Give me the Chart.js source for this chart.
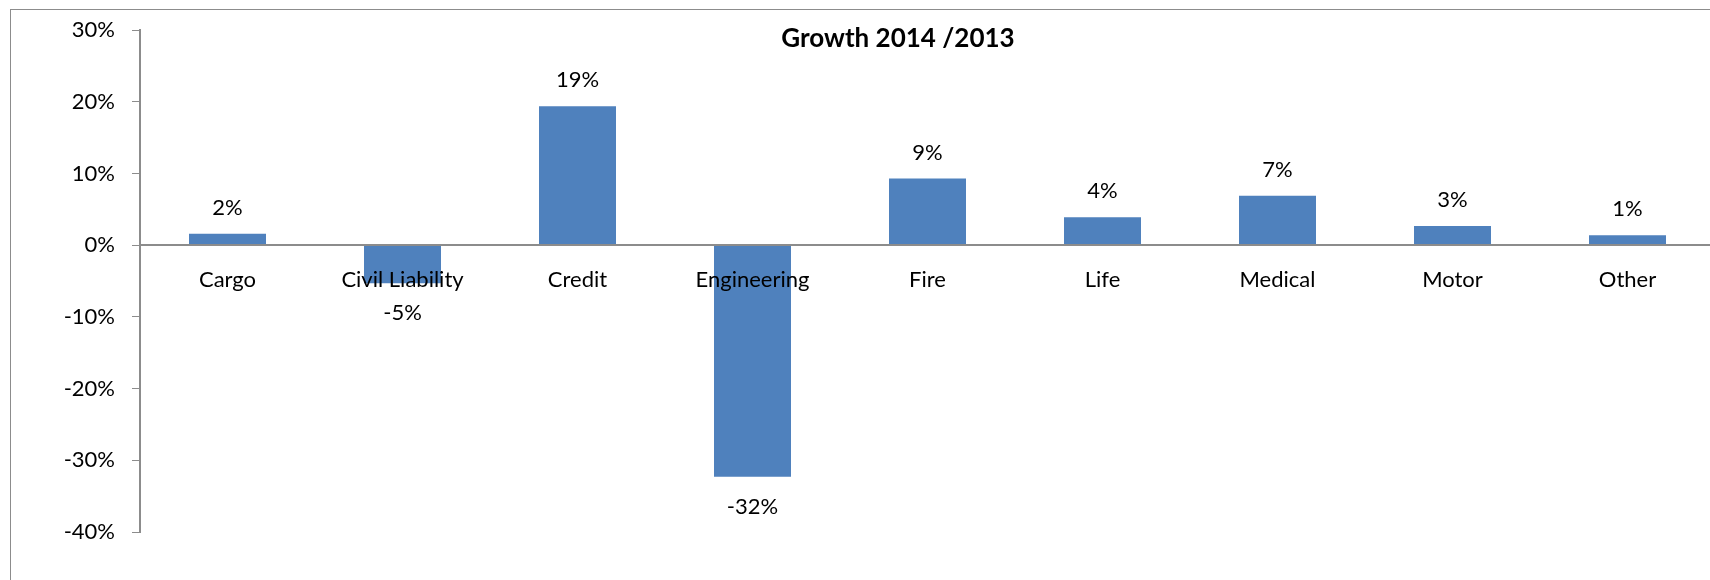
<!DOCTYPE html>
<html>
<head>
<meta charset="utf-8">
<script src="https://cdn.jsdelivr.net/npm/chart.js@4.4.1/dist/chart.umd.min.js"></script>
<style>
  html, body { margin: 0; padding: 0; background: #fff; overflow: hidden; }
  #frame {
    position: absolute; left: 10px; top: 9px; width: 1800px; height: 700px;
    border-left: 1px solid #8c8c8c; border-top: 1px solid #8c8c8c;
  }
  #title {
    position: absolute; left: 0; top: 20px; width: 1796px; text-align: center;
    font: bold 26px Lato, sans-serif; color: #000; line-height: 34px;
  }
  #chartGrowth { position: absolute; left: 0; top: 0; }
</style>
</head>
<body>
<div id="frame"></div>
<canvas id="chartGrowth" width="1730" height="580"></canvas>
<div id="title">Growth 2014 /2013</div>
<script>
// Crecimiento por ramo, 2014 frente a 2013 (%)
const ramos = ['Cargo', 'Civil Liability', 'Credit', 'Engineering', 'Fire', 'Life', 'Medical', 'Motor', 'Other'];
const crecimiento = [1.6, -5.3, 19.4, -32.3, 9.3, 3.9, 6.9, 2.7, 1.4];
const ejeMin = -40;
const ejeMax = 30;
const ejePaso = 10;

const gris = '#8c8c8c';
const fuente = { family: 'Lato, sans-serif', size: 22 };

// Etiqueta con el valor encima (o debajo) de cada barra
const etiquetasValor = {
  id: 'etiquetasValor',
  afterDatasetsDraw(chart) {
    const ctx = chart.ctx;
    const meta = chart.getDatasetMeta(0);
    ctx.save();
    ctx.font = fuente.size + 'px ' + fuente.family;
    ctx.fillStyle = '#000';
    ctx.textAlign = 'center';
    ctx.textBaseline = 'middle';
    meta.data.forEach((bar, i) => {
      const v = chart.data.datasets[0].data[i];
      const y = v >= 0 ? bar.y - 26 : bar.y + 30;
      ctx.fillText(Math.round(v) + '%', bar.x, y);
    });
    ctx.restore();
  }
};

const ctxGrowth = document.getElementById('chartGrowth').getContext('2d');
new Chart(ctxGrowth, {
  type: 'bar',
  data: {
    labels: ramos,
    datasets: [{
      label: 'Growth 2014 /2013',
      data: crecimiento,
      backgroundColor: '#4f81bd',
      borderWidth: 0,
      categoryPercentage: 1,
      barPercentage: 0.44,
    }]
  },
  options: {
    responsive: false,
    animation: false,
    layout: {
      padding: { left: 0, top: 29, right: 15, bottom: 48 },
    },
    plugins: {
      legend: { display: false },
      title: { display: false },
      tooltip: { enabled: false },
    },
    scales: {
      x: {
        position: { y: 0 },
        grid: { display: false, drawTicks: false },
        // z: 1 -> línea del cero y nombres de ramo por encima de las barras
        border: { display: true, color: gris, width: 2, z: 1 },
        ticks: { z: 1, color: '#000', font: fuente, padding: 21, maxRotation: 0, autoSkip: false },
      },
      y: {
        min: ejeMin,
        max: ejeMax,
        afterFit(scale) { scale.width = 140; },
        grid: { drawOnChartArea: false, drawTicks: true, tickLength: 8, color: gris, lineWidth: 1 },
        border: { display: true, color: gris, width: 2 },
        ticks: {
          stepSize: ejePaso,
          color: '#000',
          font: fuente,
          padding: 17,
          callback: (v) => v + '%',
        },
      },
    },
  },
  plugins: [etiquetasValor],
});
</script>
</body>
</html>
